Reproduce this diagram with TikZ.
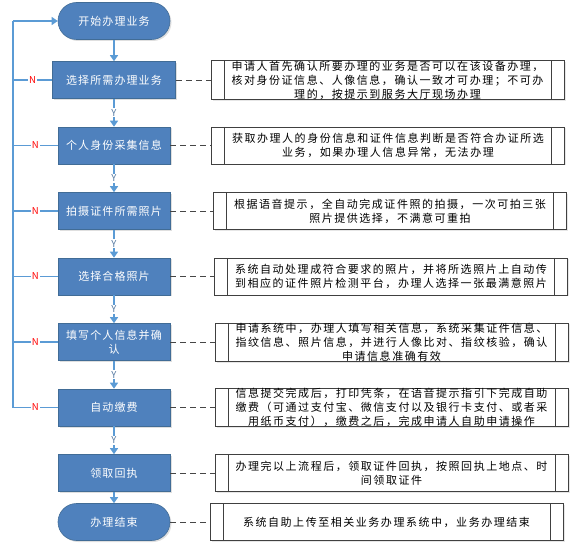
\documentclass[tikz,border=0pt]{standalone}
\usepackage{fontspec}
\setmainfont{Noto Sans CJK SC}
\newfontfamily\descfont[LetterSpace=14]{Noto Sans CJK SC}
\newfontfamily\stepfont[LetterSpace=10]{Noto Sans CJK SC}
\usetikzlibrary{shapes,arrows.meta,shadows}
\definecolor{stepblue}{RGB}{79,129,189}
\definecolor{stepedge}{RGB}{65,108,150}
\definecolor{flowblue}{RGB}{91,155,213}
\definecolor{yescolor}{RGB}{84,120,160}
\definecolor{dashgray}{RGB}{70,70,70}

\begin{document}
\begin{tikzpicture}[node distance=65.5pt]
\tikzstyle{stepbox} = [rectangle, draw=stepedge, fill=stepblue, text=white, font=\stepfont\fontsize{11}{14}\selectfont, align=center, inner sep=0pt, minimum width=112pt, minimum height=37pt, line width=0.6pt, drop shadow={opacity=0.25, shadow xshift=1.5pt, shadow yshift=-1.5pt}]
\tikzstyle{termbox} = [stepbox, rounded corners=18.5pt]
\tikzstyle{descbox} = [rectangle, draw=black!75, fill=white, font=\descfont\fontsize{11}{14}\selectfont, align=center, inner sep=0pt, minimum width=353pt, minimum height=37pt, line width=0.6pt, drop shadow={opacity=0.2, shadow xshift=1.5pt, shadow yshift=-1.5pt},
  path picture={\draw[black!75, line width=0.6pt] ([xshift=13pt]path picture bounding box.north west) -- ([xshift=13pt]path picture bounding box.south west)
     ([xshift=-13pt]path picture bounding box.north east) -- ([xshift=-13pt]path picture bounding box.south east);}]
\tikzstyle{flow} = [-{Triangle[width=8pt,length=6pt]}, draw=flowblue, line width=1.2pt]
\tikzstyle{back} = [draw=flowblue, line width=1.2pt]
\tikzstyle{link} = [draw=dashgray, dash pattern=on 6pt off 4pt, line width=0.9pt]
\tikzstyle{yes} = [midway, fill=white, text=yescolor, font=\fontsize{9.5}{9.5}\selectfont, inner sep=1pt]
\tikzstyle{no} = [fill=white, text=red, font=\fontsize{9.5}{9.5}\selectfont, inner sep=1pt]
\useasboundingbox (0,0) rectangle (576pt,-548pt);

% main steps
\node[termbox] at (114pt,-21pt) (start) {开始办理业务};
\node[stepbox, minimum width=123pt, node distance=59pt, below of=start] (pick) {选择所需办理业务};
\node[stepbox, below of=pick] (idinfo) {个人身份采集信息};
\node[stepbox, below of=idinfo] (shoot) {拍摄证件所需照片};
\node[stepbox, below of=shoot] (choose) {选择合格照片};
\node[stepbox, below of=choose] (fillin) {填写个人信息并确\\认};
\node[stepbox, below of=fillin] (pay) {自动缴费};
\node[stepbox, below of=pay] (receipt) {领取回执};
\node[termbox, node distance=49pt, below of=receipt] (finish) {办理结束};

% notes
\node[descbox, node distance=276pt, right of=pick, xshift=-2.5pt] (pickd) {申请人首先确认所要办理的业务是否可以在该设备办理，\\核对身份证信息、人像信息，确认一致才可办理；不可办\\理的，按提示到服务大厅现场办理};
\node[descbox, node distance=276pt, right of=idinfo, xshift=-2pt] (idinfod) {获取办理人的身份信息和证件信息判断是否符合办证所选\\业务，如果办理人信息异常，无法办理};
\node[descbox, node distance=276pt, right of=shoot] (shootd) {根据语音提示，全自动完成证件照的拍摄，一次可拍三张\\照片提供选择，不满意可重拍};
\node[descbox, node distance=276pt, right of=choose, xshift=1pt] (choosed) {系统自动处理成符合要求的照片，并将所选照片上自动传\\到相应的证件照片检测平台，办理人选择一张最满意照片};
\node[descbox, node distance=276pt, right of=fillin, xshift=1.5pt] (fillind) {申请系统中，办理人填写相关信息，系统采集证件信息、\\指纹信息、照片信息，并进行人像比对、指纹核验，确认\\申请信息准确有效};
\node[descbox, node distance=276pt, right of=pay, xshift=1.5pt] (payd) {信息提交完成后，打印凭条，在语音提示指引下完成自助\\缴费（可通过支付宝、微信支付以及银行卡支付、或者采\\用纸币支付），缴费之后，完成申请人自助申请操作};
\node[descbox, node distance=276pt, right of=receipt, xshift=1.5pt] (receiptd) {办理完以上流程后，领取证件回执，按照回执上地点、时\\间领取证件};
\node[descbox, node distance=276pt, right of=finish, xshift=-3.5pt] (finishd) {系统自助上传至相关业务办理系统中，业务办理结束};

% flow
\draw[flow] (start) -- (pick);
\draw[flow] (pick) -- node[yes]{Y} (idinfo);
\draw[flow] (idinfo) -- node[yes]{Y} (shoot);
\draw[flow] (shoot) -- node[yes]{Y} (choose);
\draw[flow] (choose) -- node[yes]{Y} (fillin);
\draw[flow] (fillin) -- node[yes]{Y} (pay);
\draw[flow] (pay) -- node[yes]{Y} (receipt);
\draw[flow] (receipt) -- (finish);

% back to start
\coordinate (rail) at (13pt,-21pt);
\draw[back] (pay.west) -- (rail |- pay.west) -- (rail);
\draw[flow] (rail) -- (start.west);
\foreach \s in {pick,idinfo,shoot,choose,fillin,pay}
  \draw[back] (\s.west) -- node[no, pos=0.5]{N} (rail |- \s.west);

% links
\foreach \s in {pick,idinfo,shoot,choose,fillin,pay,receipt,finish}
  \draw[link] (\s.east) -- (\s d.west);
\end{tikzpicture}
\end{document}
